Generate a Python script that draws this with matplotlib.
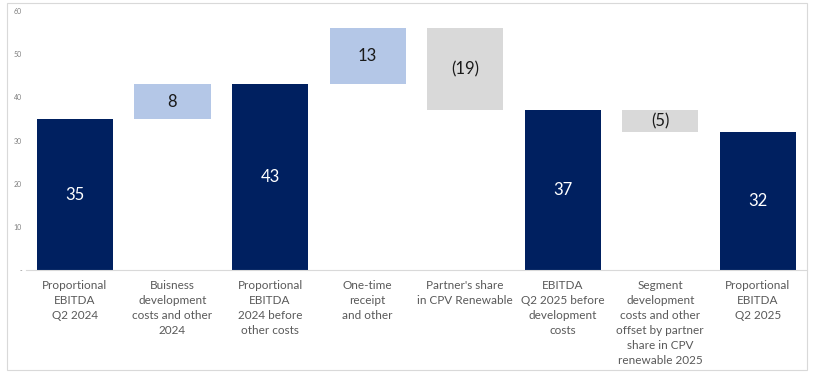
import matplotlib.pyplot as plt
from matplotlib.patches import Rectangle

plt.rcParams['font.family'] = ['Lato', 'DejaVu Sans']

categories = ['Proportional\nEBITDA\nQ2 2024',
              'Buisness\ndevelopment\ncosts and other\n2024',
              'Proportional\nEBITDA\n2024 before\nother costs',
              'One-time\nreceipt\nand other',
              "Partner's share\nin CPV Renewable",
              'EBITDA\nQ2 2025 before\ndevelopment\ncosts',
              'Segment\ndevelopment\ncosts and other\noffset by partner\nshare in CPV\nrenewable 2025',
              'Proportional\nEBITDA\nQ2 2025']
values = [35, 8, 43, 13, -19, 37, -5, 32]
kinds = ['total', 'step', 'total', 'step', 'step', 'total', 'step', 'total']

navy = '#002060'
light_blue = '#B4C7E7'
grey = '#D9D9D9'

fig = plt.figure(figsize=(8.18, 3.81), dpi=100)
ax = fig.add_axes([0.032, 0.291, 0.954, 0.68])

running = 0
for i, (v, k) in enumerate(zip(values, kinds)):
    if k == 'total':
        bottom, height, color, tcolor = 0, v, navy, 'white'
        running = v
        label = str(v)
    else:
        if v >= 0:
            bottom, color = running, light_blue
        else:
            bottom, color = running + v, grey
        height = abs(v)
        running += v
        tcolor = '#1a1a1a'
        label = str(v) if v >= 0 else '(%d)' % abs(v)
    ax.bar(i, height, bottom=bottom, width=0.78, color=color)
    ax.text(i, bottom + height / 2, label, ha='center', va='center',
            color=tcolor, fontsize=12)

ax.set_xlim(-0.5, 7.5)
ax.set_ylim(0, 60)
ax.set_yticks(range(0, 61, 10))
ax.set_yticklabels(['-'] + [str(t) for t in range(10, 61, 10)])
ax.set_xticks(range(len(categories)))
ax.set_xticklabels(categories, fontsize=8.5, color='#595959', linespacing=1.45, va='top')
ax.tick_params(axis='y', length=0, labelsize=5, colors='#7f7f7f', pad=3)
ax.tick_params(axis='x', length=0, pad=7)
for s in ['top', 'right', 'left']:
    ax.spines[s].set_visible(False)
ax.spines['bottom'].set_color('#D9D9D9')
ax.spines['bottom'].set_linewidth(0.8)

fig.patches.append(Rectangle((0.009, 0.028), 0.978, 0.964, transform=fig.transFigure,
                             fill=False, edgecolor='#D9D9D9', linewidth=0.8))

fig.savefig('out.png', dpi=100)
